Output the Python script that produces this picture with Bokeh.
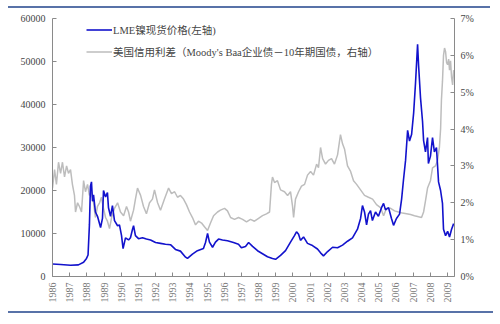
from bokeh.plotting import figure
from bokeh.models import (Range1d, LinearAxis, FixedTicker, Legend, LegendItem,
                          NumeralTickFormatter)
from bokeh.embed import file_html
from bokeh.resources import INLINE

# ---- data -------------------------------------------------------------
years = list(range(1986, 2010))
year_labels = [str(y) for y in years]

nickel_t = [1986.00, 1986.47, 1987.05, 1987.51, 1987.81, 1987.98, 1988.07, 1988.15, 1988.21, 1988.27,
            1988.33, 1988.39, 1988.50, 1988.62, 1988.80, 1988.91, 1988.97, 1989.09, 1989.20, 1989.26,
            1989.38, 1989.49, 1989.61, 1989.79, 1989.90, 1990.02, 1990.11, 1990.25, 1990.43, 1990.54,
            1990.66, 1990.72, 1990.83, 1991.01, 1991.24, 1991.47, 1991.71, 1992.00, 1992.29, 1992.58,
            1992.87, 1993.16, 1993.45, 1993.75, 1993.86, 1994.15, 1994.44, 1994.79, 1994.91, 1995.03,
            1995.14, 1995.32, 1995.49, 1995.67, 1995.90, 1996.19, 1996.54, 1996.83, 1997.00, 1997.24,
            1997.42, 1997.65, 1997.94, 1998.23, 1998.52, 1998.81, 1998.99, 1999.28, 1999.57, 1999.86,
            2000.09, 2000.21, 2000.33, 2000.44, 2000.62, 2000.85, 2001.14, 2001.43, 2001.61, 2001.78,
            2002.02, 2002.31, 2002.60, 2002.89, 2003.18, 2003.47, 2003.76, 2003.94, 2004.05, 2004.17,
            2004.29, 2004.40, 2004.52, 2004.63, 2004.81, 2004.98, 2005.16, 2005.28, 2005.39, 2005.57,
            2005.74, 2005.86, 2006.03, 2006.21, 2006.33, 2006.44, 2006.56, 2006.68, 2006.79, 2006.91,
            2007.03, 2007.14, 2007.26, 2007.32, 2007.43, 2007.55, 2007.61, 2007.72, 2007.84, 2007.89,
            2008.01, 2008.13, 2008.24, 2008.36, 2008.48, 2008.60, 2008.71, 2008.77, 2008.89, 2009.01,
            2009.12, 2009.24, 2009.36]
nickel_price = [2900, 2800, 2600, 2700, 3300, 4200, 5000, 12000, 21000, 22000,
                17500, 19000, 15000, 14000, 11400, 13500, 20000, 18500, 19500, 16000,
                14000, 16500, 13000, 11800, 12000, 9500, 6500, 9000, 8500, 9000,
                11000, 11800, 9500, 8800, 9000, 8700, 8500, 7900, 7700, 7500,
                7400, 6300, 5900, 4500, 4200, 5200, 6000, 6500, 7900, 10000,
                8000, 6800, 8000, 8700, 8500, 8300, 7900, 7500, 6700, 7000,
                7900, 7000, 6000, 5300, 4600, 4200, 4000, 4900, 6000, 8000,
                9500, 10400, 9800, 8400, 9200, 7700, 7200, 6400, 5500, 4800,
                5800, 6800, 6700, 7300, 8200, 9000, 11000, 13500, 16500, 15000,
                12000, 14500, 15300, 13000, 15000, 14000, 16000, 17000, 15500, 16000,
                13500, 11900, 13500, 14500, 18000, 22500, 27000, 34000, 31500, 33000,
                38000, 45000, 54000, 49000, 41600, 36000, 31600, 29000, 32300, 26300,
                28000, 32300, 29000, 30000, 22000, 20000, 17000, 11000, 9500, 10500,
                9200, 11000, 12300]

spread_t = [1986.00, 1986.12, 1986.23, 1986.35, 1986.47, 1986.58, 1986.70, 1986.82, 1986.93, 1987.05,
            1987.16, 1987.28, 1987.34, 1987.46, 1987.57, 1987.69, 1987.81, 1987.92, 1988.04, 1988.15,
            1988.27, 1988.39, 1988.50, 1988.62, 1988.74, 1988.85, 1988.97, 1989.09, 1989.20, 1989.32,
            1989.44, 1989.61, 1989.79, 1989.96, 1990.14, 1990.31, 1990.43, 1990.54, 1990.72, 1990.83,
            1990.95, 1991.13, 1991.30, 1991.47, 1991.65, 1991.82, 1991.94, 1992.12, 1992.29, 1992.52,
            1992.76, 1992.93, 1993.11, 1993.28, 1993.45, 1993.63, 1993.80, 1993.98, 1994.15, 1994.33,
            1994.50, 1994.68, 1994.85, 1995.03, 1995.20, 1995.38, 1995.61, 1995.78, 1996.02, 1996.19,
            1996.37, 1996.60, 1996.83, 1997.07, 1997.30, 1997.53, 1997.76, 1998.00, 1998.23, 1998.46,
            1998.64, 1998.75, 1998.81, 1998.93, 1999.10, 1999.28, 1999.51, 1999.69, 1999.86, 1999.98,
            2000.04, 2000.15, 2000.33, 2000.50, 2000.68, 2000.85, 2001.03, 2001.20, 2001.38, 2001.49,
            2001.61, 2001.73, 2001.90, 2002.07, 2002.25, 2002.42, 2002.60, 2002.77, 2002.89, 2003.01,
            2003.18, 2003.36, 2003.53, 2003.71, 2003.94, 2004.17, 2004.40, 2004.64, 2004.87, 2005.10,
            2005.28, 2005.45, 2005.69, 2005.92, 2006.15, 2006.38, 2006.62, 2006.85, 2007.08, 2007.32,
            2007.49, 2007.61, 2007.72, 2007.84, 2008.01, 2008.13, 2008.30, 2008.42, 2008.53, 2008.60,
            2008.65, 2008.71, 2008.77, 2008.83, 2008.89, 2008.95, 2009.01, 2009.07, 2009.12, 2009.18,
            2009.24, 2009.30, 2009.36]
spread_pct = [2.4, 2.9, 2.5, 3.1, 2.8, 3.1, 2.7, 3.0, 2.8, 2.9,
              2.5, 2.2, 1.75, 2.0, 1.9, 1.75, 2.6, 2.3, 2.5, 2.2,
              2.3, 2.0, 1.6, 1.9, 2.0, 2.15, 1.85, 1.6, 1.5, 1.3,
              1.6, 1.85, 2.0, 1.75, 1.65, 1.9, 1.75, 1.5, 1.8, 2.1,
              2.4, 2.2, 1.9, 1.7, 2.0, 2.1, 2.35, 2.0, 1.8, 2.1,
              2.4, 2.25, 2.3, 2.15, 2.2, 2.1, 1.95, 1.75, 1.6, 1.4,
              1.5, 1.45, 1.35, 1.25, 1.45, 1.65, 1.75, 1.8, 1.85, 1.78,
              1.6, 1.55, 1.6, 1.55, 1.48, 1.55, 1.5, 1.58, 1.65, 1.7,
              1.75, 2.5, 2.7, 2.55, 2.6, 2.35, 2.3, 2.2, 2.3, 1.9,
              1.6, 2.1, 2.3, 2.45, 2.5, 2.75, 2.85, 2.75, 3.05, 2.95,
              3.5, 3.2, 3.05, 3.15, 3.2, 3.05, 3.3, 3.85, 3.6, 3.45,
              3.0, 2.85, 2.6, 2.5, 2.35, 2.2, 2.15, 2.1, 1.95, 1.87,
              1.65, 1.85, 1.85, 1.78, 1.75, 1.72, 1.7, 1.68, 1.65, 1.62,
              1.6, 1.75, 2.05, 2.4, 2.6, 2.95, 3.0, 3.15, 3.5, 4.0,
              4.8, 5.3, 6.0, 6.2, 6.1, 5.8, 5.75, 5.9, 5.6, 5.85,
              5.4, 5.2, 5.6]

left_ticks = [0, 10000, 20000, 30000, 40000, 50000, 60000]
right_ticks = [0, 1, 2, 3, 4, 5, 6, 7]

label_nickel = "LME镍现货价格(左轴)"
label_spread = "美国信用利差（Moody's Baa企业债－10年期国债，右轴）"

# ---- style ------------------------------------------------------------
FONT = "'Liberation Serif', 'Noto Sans CJK SC', serif"
AXIS_COLOR = "#8a8a8a"
TEXT_COLOR = "#444444"
RULE_COLOR = "#5872a8"

p = figure(width=500, height=324, output_backend="svg", toolbar_location=None,
           x_range=Range1d(1986, 2009.41), y_range=Range1d(0, 60000),
           min_border_left=52, min_border_right=46, min_border_top=18, min_border_bottom=48)
p.outline_line_color = None
p.background_fill_color = "white"
p.border_fill_color = "white"
p.grid.visible = False

p.extra_y_ranges = {"pct": Range1d(0, 7)}

r_spread = p.line(spread_t, spread_pct, y_range_name="pct", line_color="#bdbdbd", line_width=1.5)
r_nickel = p.line(nickel_t, nickel_price, line_color="#1212cc", line_width=1.6)

def style_axis(ax):
    ax.axis_line_color = AXIS_COLOR
    ax.major_tick_line_color = AXIS_COLOR
    ax.major_tick_in = 4
    ax.major_tick_out = 0
    ax.minor_tick_line_color = None
    ax.major_label_text_font = FONT
    ax.major_label_text_font_size = "10px"
    ax.major_label_text_color = TEXT_COLOR

xa = p.xaxis[0]
style_axis(xa)
xa.ticker = FixedTicker(ticks=years)
xa.major_label_overrides = {y: s for y, s in zip(years, year_labels)}
xa.major_label_orientation = 3.14159265 / 2
xa.major_label_text_color = "#777777"
xa.major_label_standoff = 6

ya = p.yaxis[0]
style_axis(ya)
ya.ticker = FixedTicker(ticks=left_ticks)
ya.formatter = NumeralTickFormatter(format="0")
ya.major_label_standoff = 7

ra = LinearAxis(y_range_name="pct", ticker=FixedTicker(ticks=right_ticks))
style_axis(ra)
ra.major_label_overrides = {t: f"{t}%" for t in right_ticks}
ra.major_label_standoff = 6
p.add_layout(ra, "right")

legend = Legend(items=[LegendItem(label=label_nickel, renderers=[r_nickel]),
                       LegendItem(label=label_spread, renderers=[r_spread])],
                location=(34, 217))
legend.border_line_color = None
legend.background_fill_alpha = 0
legend.label_text_font = FONT
legend.label_text_font_size = "10.5px"
legend.label_text_color = TEXT_COLOR
legend.glyph_width = 26
legend.glyph_height = 15
legend.label_height = 15
legend.label_standoff = 1
legend.spacing = 7
legend.padding = 2
legend.margin = 0
p.add_layout(legend, "center")

html = file_html(p, INLINE)
# decorative report-frame rules above and below the chart
rules = (f'<div style="position:fixed;left:8px;top:6px;width:482px;height:1.5px;'
         f'background:{RULE_COLOR};z-index:1000;pointer-events:none"></div>'
         f'<div style="position:fixed;left:8px;top:311px;width:485px;height:1.5px;'
         f'background:{RULE_COLOR};z-index:1000;pointer-events:none"></div>')
idx = html.rfind("</body>")
html = html[:idx] + rules + html[idx:]
open("out.html", "w").write(html)
